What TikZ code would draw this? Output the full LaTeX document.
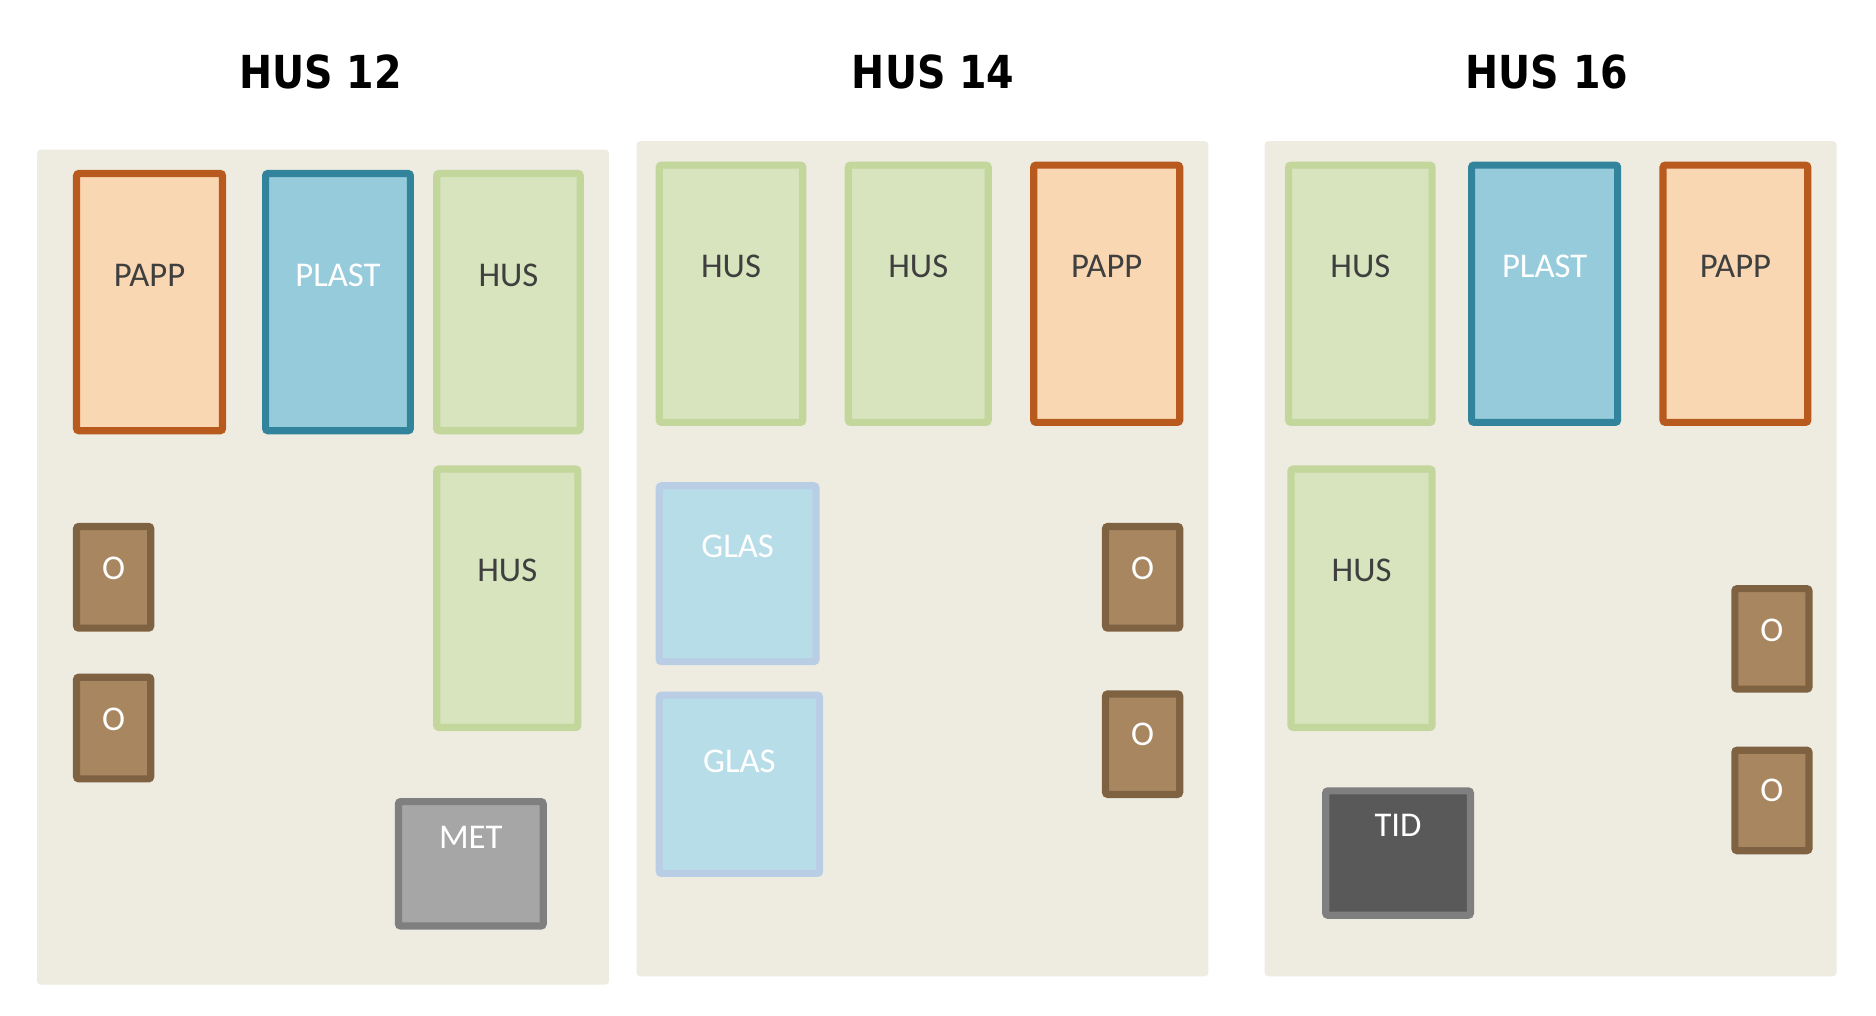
\documentclass[tikz,border=0pt]{standalone}
\usepackage{fontspec}
\setmainfont{Carlito}
\newfontfamily\titlefont[FakeStretch=0.87]{DejaVu Sans}
\definecolor{panelbg}{HTML}{EEECE1}
\definecolor{pappfill}{HTML}{FAD7B3}
\definecolor{pappdraw}{HTML}{B85A1D}
\definecolor{plastfill}{HTML}{96CBDB}
\definecolor{plastdraw}{HTML}{31849B}
\definecolor{husfill}{HTML}{D7E4BD}
\definecolor{husdraw}{HTML}{C3D69B}
\definecolor{ofill}{HTML}{A88760}
\definecolor{odraw}{HTML}{7F6242}
\definecolor{glasfill}{HTML}{B7DEE8}
\definecolor{glasdraw}{HTML}{B9CDE5}
\definecolor{metfill}{HTML}{A6A6A6}
\definecolor{greydraw}{HTML}{7F7F7F}
\definecolor{tidfill}{HTML}{595959}
\definecolor{darktext}{HTML}{3F3F3F}
\tikzset{
  panel/.style={fill=panelbg, rounded corners=3pt, inner sep=0pt, outer sep=0pt},
  binbox/.style={rectangle, rounded corners=2pt, line width=6pt, inner sep=0pt, outer sep=0pt},
  pappbox/.style={binbox, fill=pappfill, draw=pappdraw},
  plastbox/.style={binbox, fill=plastfill, draw=plastdraw},
  husbox/.style={binbox, fill=husfill, draw=husdraw},
  obox/.style={binbox, fill=ofill, draw=odraw},
  glasbox/.style={binbox, fill=glasfill, draw=glasdraw},
  metbox/.style={binbox, fill=metfill, draw=greydraw},
  tidbox/.style={binbox, fill=tidfill, draw=greydraw},
  darklab/.style={inner sep=0pt, text=darktext, font=\fontsize{29}{34}\selectfont},
  whitelab/.style={inner sep=0pt, text=white, font=\fontsize{29}{34}\selectfont},
  title/.style={inner sep=0pt, text=black, font=\titlefont\bfseries\fontsize{38}{44}\selectfont},
}
% #1 name, #2 box style, #3 x1, #4 y1, #5 x2, #6 y2, #7 label y, #8 label style, #9 text
\newcommand\mybin[9]{%
  \node[#2, minimum width={(#5-#3-6)*1pt}, minimum height={(#6-#4-6)*1pt}] (#1) at ({(#3+#5)/2},{(#4+#6)/2}) {};
  \node[#8] (#1-lab) at ({(#3+#5)/2},#7) {#9};
}
\begin{document}
\begin{tikzpicture}[x=1pt,y=-1pt]
\useasboundingbox[fill=white] (0,0) rectangle (1568,849);
% titles
\node[title] (t12) at (268,60) {HUS 12};
\node[title] (t14) at (780,60) {HUS 14};
\node[title] (t16) at (1293,60) {HUS 16};
% panels
\node[panel, minimum width=478pt, minimum height=698pt] (pan12) at (270,474) {};
\node[panel, minimum width=478pt, minimum height=698pt] (pan14) at (771,467) {};
\node[panel, minimum width=478pt, minimum height=698pt] (pan16) at (1296,467) {};
% HUS 12
\mybin{a1}{pappbox}{61}{142}{189}{363}{230}{darklab}{PAPP}
\mybin{a2}{plastbox}{219}{142}{346}{363}{230}{whitelab}{PLAST}
\mybin{a3}{husbox}{362}{142}{488}{363}{230}{darklab}{HUS}
\mybin{a4}{husbox}{362}{389}{486}{611}{477}{darklab}{HUS}
\mybin{a5}{obox}{61}{437}{129}{528}{475}{whitelab}{O}
\mybin{a6}{obox}{61}{563}{129}{654}{601}{whitelab}{O}
\mybin{a7}{metbox}{330}{667}{457}{777}{700}{whitelab}{MET}
% HUS 14
\mybin{b1}{husbox}{548}{135}{674}{356}{223}{darklab}{HUS}
\mybin{b2}{husbox}{706}{135}{829}{356}{223}{darklab}{HUS}
\mybin{b3}{pappbox}{861}{135}{989}{356}{223}{darklab}{PAPP}
\mybin{b4}{glasbox}{548}{403}{685}{556}{457}{whitelab}{GLAS}
\mybin{b5}{glasbox}{548}{578}{688}{733}{636}{whitelab}{GLAS}
\mybin{b6}{obox}{921}{437}{989}{528}{475}{whitelab}{O}
\mybin{b7}{obox}{921}{577}{989}{667}{614}{whitelab}{O}
% HUS 16
\mybin{c1}{husbox}{1074}{135}{1200}{356}{223}{darklab}{HUS}
\mybin{c2}{plastbox}{1227}{135}{1355}{356}{223}{whitelab}{PLAST}
\mybin{c3}{pappbox}{1387}{135}{1514}{356}{223}{darklab}{PAPP}
\mybin{c4}{husbox}{1076}{389}{1200}{611}{477}{darklab}{HUS}
\mybin{c5}{obox}{1447}{489}{1515}{579}{527}{whitelab}{O}
\mybin{c6}{obox}{1447}{624}{1515}{714}{661}{whitelab}{O}
\mybin{c7}{tidbox}{1105}{658}{1232}{768}{690}{whitelab}{TID}
\end{tikzpicture}
\end{document}
